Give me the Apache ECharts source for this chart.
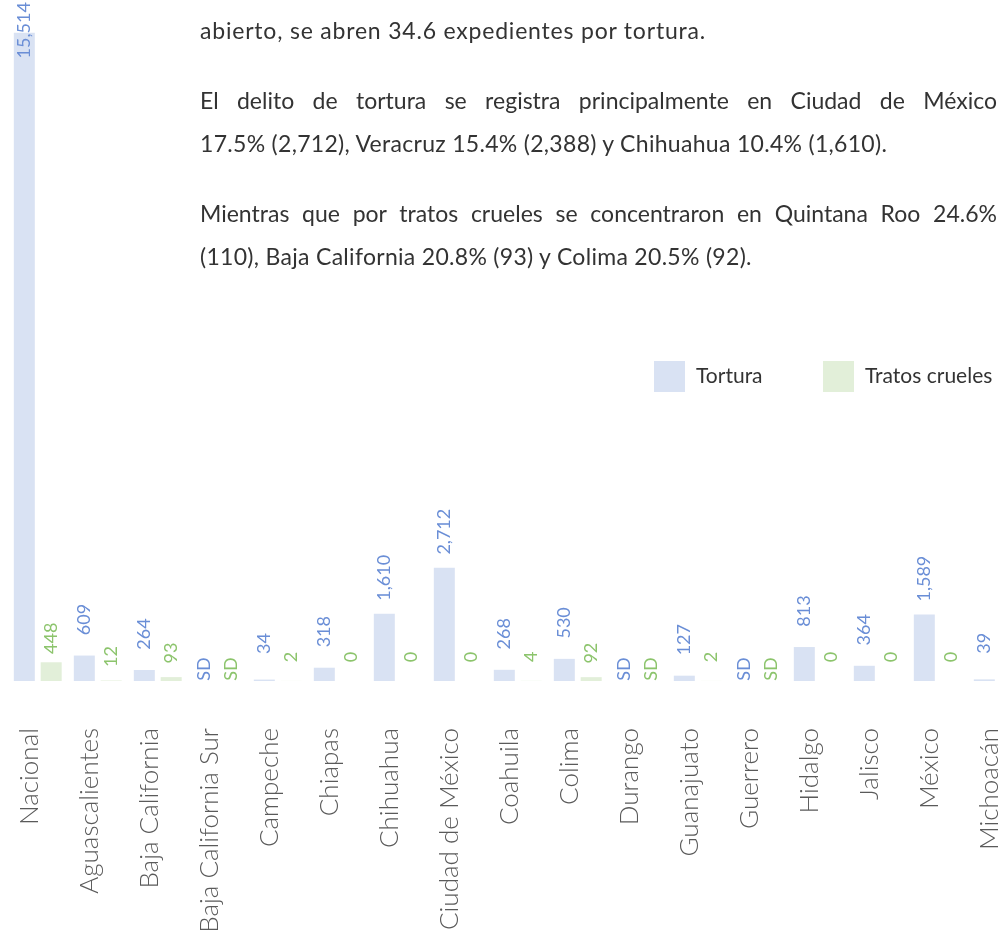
<!DOCTYPE html>
<html>
<head>
<meta charset="utf-8">
<script src="https://cdn.jsdelivr.net/npm/echarts@6/dist/echarts.min.js"></script>
<style>
  html, body { margin: 0; padding: 0; background: #ffffff; }
  #wrap { position: relative; width: 999px; height: 943px; overflow: hidden; }
  #chart { position: absolute; left: 0; top: 0; width: 1100px; height: 943px; }
  .ln { position: absolute; left: 200px; width: 797px; font-family: Lato, 'Open Sans', sans-serif; font-size: 23px; line-height: 23px; letter-spacing: 0.3px; color: #333333; white-space: nowrap; }
  .just { text-align: justify; text-align-last: justify; white-space: normal; letter-spacing: 0; }
</style>
</head>
<body>
<div id="wrap">
  <div id="chart"></div>
  <div class="ln" style="top:19px; letter-spacing:0.8px">abierto, se abren 34.6 expedientes por tortura.</div>
  <div class="ln just" style="top:89px">El delito de tortura se registra principalmente en Ciudad de México</div>
  <div class="ln" style="top:132px">17.5% (2,712), Veracruz 15.4% (2,388) y Chihuahua 10.4% (1,610).</div>
  <div class="ln just" style="top:202px">Mientras que por tratos crueles se concentraron en Quintana Roo 24.6%</div>
  <div class="ln" style="top:245px">(110), Baja California 20.8% (93) y Colima 20.5% (92).</div>
</div>
<script>
const categories = ['Nacional', 'Aguascalientes', 'Baja California', 'Baja California Sur', 'Campeche', 'Chiapas', 'Chihuahua', 'Ciudad de México', 'Coahuila', 'Colima', 'Durango', 'Guanajuato', 'Guerrero', 'Hidalgo', 'Jalisco', 'México', 'Michoacán'];
const tortura = [15514, 609, 264, 'SD', 34, 318, 1610, 2712, 268, 530, 'SD', 127, 'SD', 813, 364, 1589, 39];
const tratosCrueles = [448, 12, 93, 'SD', 2, 0, 0, 0, 4, 92, 'SD', 2, 'SD', 0, 0, 0, null];
const seriesNames = ['Tortura', 'Tratos crueles'];

const FONT = 'Lato, "Open Sans", sans-serif';
const colors = { bar: ['#d9e2f3', '#e2efd9'], label: ['#6a8ed6', '#8cc46c'] };
const labelDist = [36, 24];

function fmt(v) { return Number(v).toLocaleString('en-US'); }

function build(values, s) {
  return values.map(function (v, i) {
    if (v === 'SD') {
      return { value: 0, label: { formatter: 'SD', distance: 12 } };
    }
    if (v === null) return '-';
    const item = { value: v };
    if (s === 0 && i === 0) item.label = { distance: 2.5 };
    return item;
  });
}

const chart = echarts.init(document.getElementById('chart'), null, { renderer: 'canvas' });
chart.setOption({
  animation: false,
  backgroundColor: '#ffffff',
  grid: { left: 7.75, top: 12.5, width: 1020, height: 668.5, containLabel: false },
  legend: [
    { data: [seriesNames[0]], left: 649, top: 356, icon: 'rect', itemWidth: 31, itemHeight: 31,
      textStyle: { fontFamily: FONT, fontSize: 21, color: '#333', padding: [0, 0, 0, 6] } },
    { data: [seriesNames[1]], left: 818, top: 356, icon: 'rect', itemWidth: 31, itemHeight: 31,
      textStyle: { fontFamily: FONT, fontSize: 21, color: '#333', padding: [0, 0, 0, 6] } }
  ],
  xAxis: {
    type: 'category',
    data: categories,
    axisLine: { show: false },
    axisTick: { show: false },
    axisLabel: {
      interval: 0, rotate: 90, margin: 47,
      fontFamily: FONT, fontSize: 26, fontWeight: 300, color: '#5a5a5a',
      verticalAlign: 'bottom', lineHeight: 16
    }
  },
  yAxis: { type: 'value', min: 0, max: 16000, show: false, splitLine: { show: false } },
  series: [
    {
      name: seriesNames[0], type: 'bar', barWidth: 21, barGap: '28%',
      itemStyle: { color: colors.bar[0] },
      label: { show: true, position: 'top', distance: labelDist[0], rotate: 90, align: 'center', verticalAlign: 'middle',
        fontFamily: FONT, fontSize: 18, color: colors.label[0], formatter: function (p) { return fmt(p.value); } },
      data: build(tortura, 0)
    },
    {
      name: seriesNames[1], type: 'bar', barWidth: 21, barGap: '28%',
      itemStyle: { color: colors.bar[1] },
      label: { show: true, position: 'top', distance: labelDist[1], rotate: 90, align: 'center', verticalAlign: 'middle',
        fontFamily: FONT, fontSize: 18, color: colors.label[1], formatter: function (p) { return fmt(p.value); } },
      data: build(tratosCrueles, 1)
    }
  ]
});
</script>
</body>
</html>
